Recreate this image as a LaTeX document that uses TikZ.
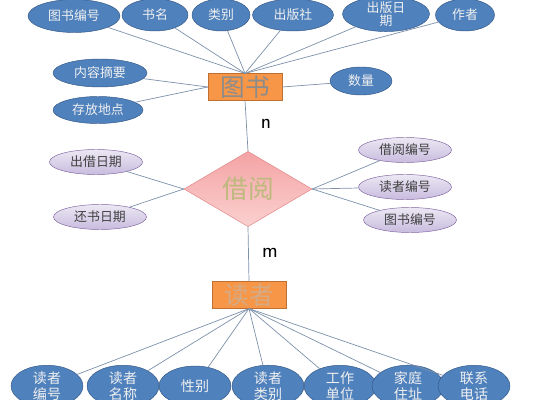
\documentclass[tikz,border=0pt]{standalone}
\usepackage{fontspec}
\newfontfamily\cjk{Noto Sans CJK SC}
\usepackage{tikz}
\usetikzlibrary{shapes.geometric,positioning}
\usepackage{xcolor}
\definecolor{attrBlue}{RGB}{79,129,189}
\definecolor{attrEdge}{RGB}{52,88,135}
\definecolor{lilac}{RGB}{200,188,222}
\definecolor{lilacEdge}{RGB}{128,100,162}
\definecolor{entOrange}{RGB}{247,150,70}
\definecolor{entEdge}{RGB}{190,112,50}
\definecolor{relPinkTop}{RGB}{244,163,163}
\definecolor{relPinkBot}{RGB}{251,208,208}
\definecolor{relEdge}{RGB}{225,130,130}
\definecolor{relText}{RGB}{190,185,125}
\definecolor{linkGray}{RGB}{125,145,170}

\tikzset{
  attr/.style={ellipse, draw=attrEdge, fill=attrBlue, inner sep=0pt,
    text=white!88!gray, align=center, font=\cjk\fontsize{11}{13}\selectfont},
  relattr/.style={ellipse, draw=lilacEdge, top color=lilac!35, bottom color=lilac,
    inner sep=0pt, text=black!75, font=\cjk\fontsize{11}{13}\selectfont,
    minimum width=2.79cm, minimum height=0.75cm},
  entity/.style={rectangle, draw=entEdge, fill=entOrange, inner sep=0pt,
    minimum width=2.22cm, minimum height=0.8cm, font=\cjk\fontsize{21}{23}\selectfont},
  link/.style={draw=linkGray, line width=0.6pt}
}

\begin{document}
\begin{tikzpicture}[x=0.03cm, y=-0.03cm]
  \useasboundingbox (0,0) rectangle (533,400);
  % Entities
  \node[entity, text=black!45] (tushu) at (245,87) {图书};
  \node[entity, text=black!25!entOrange!60!white] (duzhe) at (249,295) {读者};
  % Relationship
  \node[diamond, draw=relEdge, top color=relPinkTop, bottom color=relPinkBot,
        inner sep=0pt, minimum width=3.84cm, minimum height=1.35cm,
        text=relText, font=\cjk\fontsize{22}{24}\selectfont]
        (jieyue) at (248,189) {借阅};
  % Book attributes (top row)
  \node[attr, minimum width=2.76cm, minimum height=0.99cm] (tsbh) at (74,16) {图书编号};
  \node[attr, minimum width=1.98cm, minimum height=0.96cm] (shuming) at (155,15) {书名};
  \node[attr, minimum width=1.74cm, minimum height=0.96cm] (leibie) at (221,15) {类别};
  \node[attr, minimum width=2.43cm, minimum height=0.96cm] (cbs) at (293,15) {出版社};
  \node[attr, minimum width=2.61cm, minimum height=0.96cm, font=\cjk\fontsize{11}{11}\selectfont]
        (cbrq) at (386,14) {出版日\\期};
  \node[attr, minimum width=1.77cm, minimum height=0.96cm] (zuozhe) at (465,15) {作者};
  % Book attributes (sides)
  \node[attr, minimum width=2.82cm, minimum height=0.84cm] (nrzy) at (100,73) {内容摘要};
  \node[attr, minimum width=2.7cm, minimum height=0.81cm] (cfdd) at (98,110) {存放地点};
  \node[attr, minimum width=1.86cm, minimum height=0.84cm] (shuliang) at (361,81) {数量};
  % Borrow attributes
  \node[relattr] (cjrq) at (96,162) {出借日期};
  \node[relattr] (hsrq) at (100,217) {还书日期};
  \node[relattr] (jybh) at (405,150) {借阅编号};
  \node[relattr] (dzbh) at (405,187) {读者编号};
  \node[relattr] (tsbh2) at (410,220) {图书编号};
  % Reader attributes (bottom row)
  \foreach \nm/\x/\txt in {r1/47/{读者\\编号}, r2/123/{读者\\名称}, r3/195/{性别},
      r4/268/{读者\\类别}, r5/340/{工作\\单位}, r6/408/{家庭\\住址}, r7/474/{联系\\电话}}
    \node[attr, minimum width=2.16cm, minimum height=1.2cm,
          font=\cjk\fontsize{12}{14}\selectfont] (\nm) at (\x,386) {\txt};
  % Links
  \foreach \a in {tsbh,shuming,leibie,cbs,cbrq,zuozhe}
    \draw[link] (tushu.north) -- (\a);
  \draw[link] (tushu.west) -- (nrzy);
  \draw[link] (tushu.west) -- (cfdd);
  \draw[link] (tushu.east) -- (shuliang);
  \draw[link] (tushu.south) -- (jieyue.north);
  \draw[link] (jieyue.south) -- (duzhe.north);
  \draw[link] (jieyue.west) -- (cjrq);
  \draw[link] (jieyue.west) -- (hsrq);
  \foreach \a in {jybh,dzbh,tsbh2}
    \draw[link] (jieyue.east) -- (\a);
  \foreach \a in {r1,r2,r3,r4,r5,r6,r7}
    \draw[link] (duzhe.south) -- (\a);
  % Cardinality
  \node[font=\sffamily\fontsize{18}{20}\selectfont] (card n) at (266,124) {n};
  \node[font=\sffamily\fontsize{18}{20}\selectfont] (card m) at (270,253) {m};
\end{tikzpicture}
\end{document}
